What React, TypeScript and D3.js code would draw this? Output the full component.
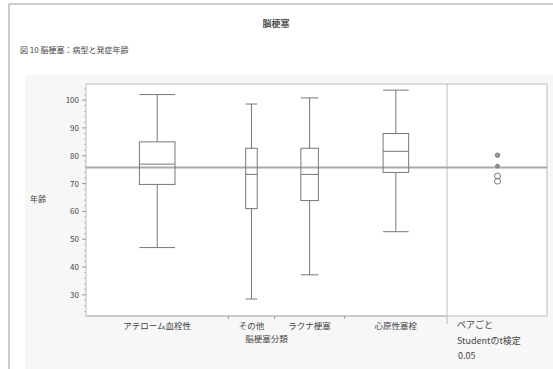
import React from 'react';
import * as d3 from 'd3';

// 脳梗塞分類ごとの年齢分布
const categories = ['アテローム血栓性', 'その他', 'ラクナ梗塞', '心原性塞栓'];
const counts = [71, 23, 35, 51];
const whiskerHigh = [102, 98.6, 100.8, 103.6];
const q3 = [85, 82.7, 82.7, 88];
const medians = [77, 73.3, 73.3, 81.6];
const q1 = [69.7, 61, 63.9, 74];
const whiskerLow = [47, 28.5, 37.2, 52.7];
const grandMean = 75.8;
const yTicks = [30, 40, 50, 60, 70, 80, 90, 100];
// comparison circles (center, radius in age units)
const circleMeans = [80.2, 76.3, 72.7, 70.9];
const circleRadii = [0.5, 0.4, 0.8, 0.8];

const W = 553;
const H = 369;
const left = 86;
const right = 447;
const panelRight = 547;
const top = 84;
const bottom = 316;
const font = '"Noto Sans CJK JP", "Noto Sans", sans-serif';

export default function App() {
  const y = d3.scaleLinear().domain([22.4, 105.8]).range([bottom, top]);

  // section widths proportional to group size, like JMP
  const total = d3.sum(counts);
  const x = d3.scaleLinear().domain([0, total]).range([left, right]);
  const starts = counts.map((_, i) => d3.sum(counts.slice(0, i)));
  const sections = counts.map((c, i) => ({
    x0: x(starts[i]),
    x1: x(starts[i] + c),
  }));

  const minor = d3.range(24, 106, 2).filter(v => v % 10 !== 0);
  const cx = (right + panelRight) / 2 + 0.5;

  return (
    <svg width={W} height={H} style={{ position: 'absolute', left: 0, top: 0 }}>
      <rect x={0} y={0} width={W} height={H} fill="#fff" />
      <rect x={25} y={75} width={W - 25} height={H - 75} fill="#f7f7f7" />
      <line x1={9} y1={4} x2={W} y2={4} stroke="#999" />
      <line x1={9} y1={4} x2={9} y2={H} stroke="#999" />

      <text x={276} y={27} textAnchor="middle" fontFamily={font} fontSize={9} fontWeight="bold" fill="#555">脳梗塞</text>
      <text x={20} y={53} fontFamily={font} fontSize={8} fill="#444">図 10 脳梗塞：病型と発症年齢</text>

      <rect x={left} y={top} width={panelRight - left} height={bottom - top} fill="#fff" stroke="#bbb" />
      <line x1={right} y1={top} x2={right} y2={bottom + 8} stroke="#bbb" />

      {/* y axis */}
      {minor.map(v => (
        <line key={'m' + v} x1={left - 2} x2={left} y1={y(v)} y2={y(v)} stroke="#bbb" />
      ))}
      {yTicks.map(v => (
        <g key={v}>
          <line x1={left - 4} x2={left} y1={y(v)} y2={y(v)} stroke="#999" />
          <text x={left - 7} y={y(v) + 3} textAnchor="end" fontFamily={font} fontSize={8} fill="#444">{v}</text>
        </g>
      ))}
      <text x={38} y={202} textAnchor="middle" fontFamily={font} fontSize={8} fill="#444">年齢</text>

      {/* x axis ticks */}
      <line x1={left} x2={right} y1={bottom} y2={bottom} stroke="#bbb" />
      {sections.slice(1).map((s, i) => (
        <line key={'t' + i} x1={s.x0} x2={s.x0} y1={bottom} y2={bottom + 3} stroke="#999" />
      ))}

      {/* grand mean */}
      <line x1={left} x2={panelRight} y1={y(grandMean)} y2={y(grandMean)} stroke="#aaa" strokeWidth={2} />

      {/* boxes */}
      {sections.map((s, i) => {
        const mid = (s.x0 + s.x1) / 2;
        const bw = (s.x1 - s.x0) / 4;
        return (
          <g key={categories[i]} stroke="#777" fill="none">
            <line x1={mid} x2={mid} y1={y(whiskerHigh[i])} y2={y(q3[i])} />
            <line x1={mid} x2={mid} y1={y(q1[i])} y2={y(whiskerLow[i])} />
            <line x1={mid - bw / 2} x2={mid + bw / 2} y1={y(whiskerHigh[i])} y2={y(whiskerHigh[i])} />
            <line x1={mid - bw / 2} x2={mid + bw / 2} y1={y(whiskerLow[i])} y2={y(whiskerLow[i])} />
            <rect x={mid - bw / 2} y={y(q3[i])} width={bw} height={y(q1[i]) - y(q3[i])} />
            <line x1={mid - bw / 2} x2={mid + bw / 2} y1={y(medians[i])} y2={y(medians[i])} />
          </g>
        );
      })}

      {/* comparison circles */}
      {circleMeans.map((m, i) => (
        <circle key={'c' + i} cx={cx} cy={y(m)} r={Math.abs(y(0) - y(circleRadii[i])) + 0.8}
          fill={i < 2 ? '#999' : 'none'} stroke="#777" />
      ))}

      {/* x labels */}
      {sections.map((s, i) => (
        <text key={'l' + i} x={(s.x0 + s.x1) / 2} y={329} textAnchor="middle" fontFamily={font} fontSize={8.5} fill="#444">
          {categories[i]}
        </text>
      ))}
      <text x={(left + right) / 2} y={342} textAnchor="middle" fontFamily={font} fontSize={8.5} fill="#444">脳梗塞分類</text>
      <text x={457} y={328} fontFamily={font} fontSize={9} fill="#444">ペアごと</text>
      <text x={457} y={344} fontFamily={font} fontSize={9} fill="#444">Studentのt検定</text>
      <text x={458} y={359} fontFamily={font} fontSize={9} fill="#444">0.05</text>
    </svg>
  );
}
